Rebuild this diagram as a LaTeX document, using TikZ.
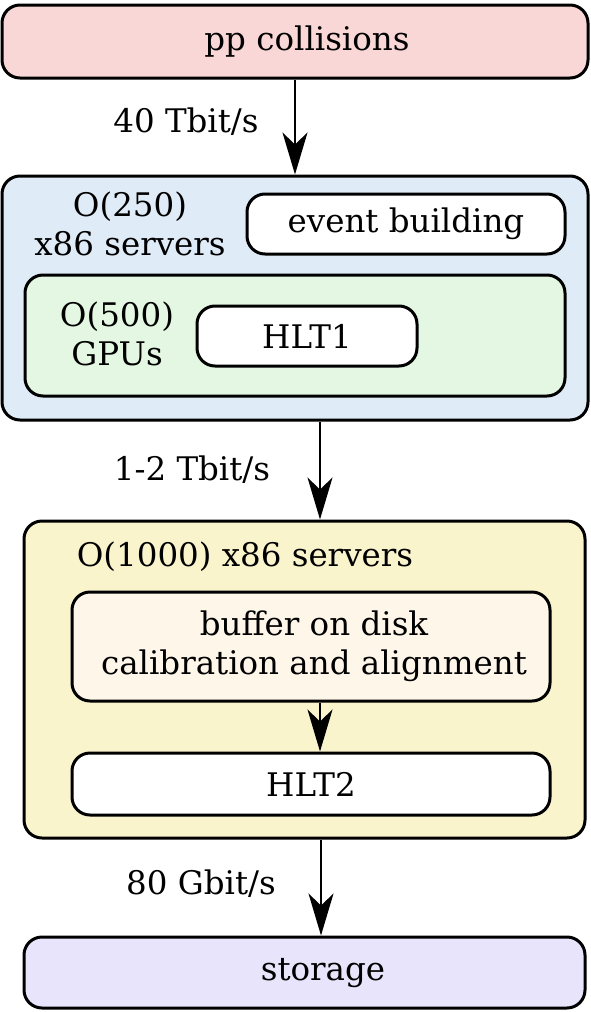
\documentclass[tikz,border=0pt]{standalone}
\usepackage{fontspec}
\setmainfont{DejaVu Serif}
\usetikzlibrary{arrows.meta}
\definecolor{cpink}{HTML}{FAD7D7}
\definecolor{cblue}{HTML}{DFEBF6}
\definecolor{cgreen}{HTML}{E3F7E3}
\definecolor{cyellow}{HTML}{FAF4CC}
\definecolor{ccream}{HTML}{FEF6E9}
\definecolor{clav}{HTML}{E8E4FB}
\begin{document}
\begin{tikzpicture}[x=1pt,y=-1pt,
 box/.style={draw=black, line width=3pt, rounded corners=18pt, inner sep=0pt, align=center, font=\fontsize{32.5}{40}\selectfont},
 lbl/.style={font=\fontsize{32.5}{39}\selectfont, align=center, inner sep=0pt},
 arr/.style={line width=2pt, -{Stealth[length=42pt,width=25pt,inset=12pt]}}]
\useasboundingbox (0,0) rectangle (590,1012);
\node[box, fill=cpink, minimum width=586pt, minimum height=73pt] (pp) at (295,41.5) {};
\node[lbl] (ppt) at (307,41.5) {pp collisions};
\node[box, fill=cblue, minimum width=586pt, minimum height=244pt] (blue) at (295,298) {};
\node[box, fill=white, minimum width=318pt, minimum height=60pt] (evb) at (406,224) {event building};
\node[box, fill=cgreen, minimum width=540pt, minimum height=121pt] (green) at (295,335.5) {};
\node[box, fill=white, minimum width=220pt, minimum height=60pt] (hlt1) at (307,336) {HLT1};
\node[box, fill=cyellow, minimum width=561pt, minimum height=317pt] (yellow) at (304.5,679.5) {};
\node[box, fill=ccream, minimum width=478pt, minimum height=109pt] (buf) at (311,646.5) {};
\node[lbl] (buft) at (314,646.5) {buffer on disk\\calibration and alignment};
\node[box, fill=white, minimum width=478pt, minimum height=62pt] (hlt2) at (311,784) {HLT2};
\node[box, fill=clav, minimum width=561pt, minimum height=71pt] (sto) at (304.5,972.5) {};
\node[lbl] (stot) at (323,973.5) {storage};

\node[lbl] (l250) at (130,224) {O(250)\\x86 servers};
\node[lbl] (l500) at (117,334) {O(500)\\GPUs};
\node[lbl] (l1000) at (245,557) {O(1000) x86 servers};
\node[lbl] (r1) at (186,122) {40 Tbit/s};
\node[lbl] (r2) at (192,470) {1-2 Tbit/s};
\node[lbl] (r3) at (201,884) {80 Gbit/s};

\coordinate (c2) at (320,0);
\coordinate (c3) at (321,0);
\draw[arr] (pp.south) -- (blue.north);
\draw[arr] (blue.south -| c2) -- (yellow.north -| c2);
\draw[arr] (buf.south -| c2) -- (hlt2.north -| c2);
\draw[arr] (yellow.south -| c3) -- (sto.north -| c3);
\end{tikzpicture}
\end{document}
